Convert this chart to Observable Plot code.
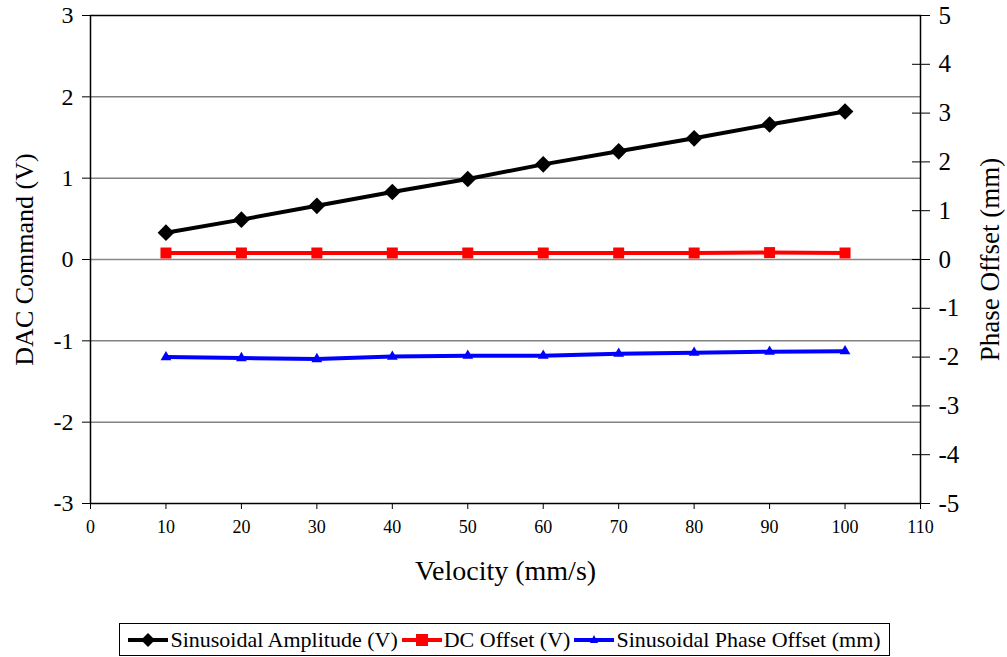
<!DOCTYPE html>
<html>
<head>
<meta charset="utf-8">
<script src="https://cdn.jsdelivr.net/npm/d3@7"></script>
<script src="https://cdn.jsdelivr.net/npm/@observablehq/plot@0.6"></script>
<style>
  html, body { margin: 0; padding: 0; background: white; }
  #chart { width: 1007px; }
  .legend {
    position: absolute; left: 119px; top: 623px; width: 771px; height: 33px;
    border: 1px solid black; box-sizing: border-box;
    display: flex; align-items: center; justify-content: center; gap: 4px;
    font-family: "Liberation Serif", serif; font-size: 22px; color: black;
  }
  .legend .item { display: flex; align-items: center; gap: 2px; white-space: nowrap; }
</style>
</head>
<body>
<div id="chart"></div>
<div class="legend" id="legend"></div>
<script>
// ---- data ----
const velocity = [10, 20, 30, 40, 50, 60, 70, 80, 90, 100];
const amplitude = [0.33, 0.49, 0.66, 0.83, 0.99, 1.17, 1.33, 1.49, 1.66, 1.82];        // V (left axis)
const dcOffset = [0.08, 0.08, 0.08, 0.08, 0.08, 0.08, 0.08, 0.08, 0.085, 0.08];         // V (left axis)
const phaseOffset = [-2.00, -2.02, -2.04, -1.99, -1.97, -1.97, -1.93, -1.91, -1.89, -1.88]; // mm (right axis)
const xTicks = [0, 10, 20, 30, 40, 50, 60, 70, 80, 90, 100, 110];
const leftTicks = [-3, -2, -1, 0, 1, 2, 3];
const rightTicks = [-5, -4, -3, -2, -1, 0, 1, 2, 3, 4, 5];
const gridTicks = [-2, -1, 1, 2];
const seriesNames = ["Sinusoidal Amplitude (V)", "DC Offset (V)", "Sinusoidal Phase Offset (mm)"];
const seriesColors = ["black", "red", "blue"];

// right axis (mm) mapped onto left axis (V): -5..5 -> -3..3
const k = 3 / 5;
const rows = velocity.map((v, i) => ({v, amp: amplitude[i], dc: dcOffset[i], phase: phaseOffset[i] * k}));
const rightScaled = rightTicks.map(t => t * k);

const chart = Plot.plot({
  width: 1007,
  height: 612,
  marginLeft: 90,
  marginRight: 87,
  marginTop: 15,
  marginBottom: 109,
  style: {fontFamily: "Liberation Serif", background: "white", color: "black"},
  x: {domain: [0, 110]},
  y: {domain: [-3, 3]},
  marks: [
    Plot.ruleY(gridTicks, {stroke: "#444", strokeWidth: 1}),
    Plot.ruleY([0], {stroke: "#888", strokeWidth: 1.5}),
    Plot.frame({stroke: "black", strokeWidth: 1.5}),
    Plot.axisX(xTicks, {tickSize: 6, tickPadding: 11, fontSize: 18, tickFormat: d => String(d), label: null}),
    Plot.axisX(xTicks, {tickSize: 0, tickFormat: () => "", label: "Velocity (mm/s)", labelArrow: "none",
      labelAnchor: "center", labelOffset: 76, fontSize: 28}),
    Plot.axisY(leftTicks, {tickSize: 8, tickPadding: 9, fontSize: 24, tickFormat: d => String(d), label: null}),
    Plot.axisY(leftTicks, {tickSize: 0, tickFormat: () => "", label: "DAC Command (V)", labelArrow: "none",
      labelAnchor: "center", labelOffset: 76, fontSize: 26}),
    Plot.axisY(rightScaled, {anchor: "right", tickSize: 9, tickPadding: 9, fontSize: 25,
      tickFormat: d => String(Math.round(d / k)), label: null}),
    Plot.axisY(rightScaled, {anchor: "right", tickSize: 0, tickFormat: () => "",
      label: "Phase Offset (mm)", labelArrow: "none", labelAnchor: "center", labelOffset: 78, fontSize: 27}),
    Plot.axisY(rightScaled.slice(1, -1), {anchor: "right", tickSize: 9, dx: -9, tickFormat: () => "", label: null}),
    Plot.line(rows, {x: "v", y: "amp", stroke: seriesColors[0], strokeWidth: 4}),
    Plot.dot(rows, {x: "v", y: "amp", symbol: "diamond2", fill: seriesColors[0], r: 7.5}),
    Plot.line(rows, {x: "v", y: "dc", stroke: seriesColors[1], strokeWidth: 4}),
    Plot.dot(rows, {x: "v", y: "dc", symbol: "square", fill: seriesColors[1], r: 6.2}),
    Plot.line(rows, {x: "v", y: "phase", stroke: seriesColors[2], strokeWidth: 4}),
    Plot.dot(rows, {x: "v", y: "phase", symbol: "triangle", fill: seriesColors[2], r: 4})
  ]
});
document.getElementById("chart").append(chart);

// legend
const symbols = ["diamond", "square", "triangle"];
const legend = document.getElementById("legend");
seriesNames.forEach((name, i) => {
  const item = document.createElement("div");
  item.className = "item";
  const c = seriesColors[i];
  let marker;
  if (symbols[i] === "diamond") marker = `<polygon points="20,3 27,10 20,17 13,10" fill="${c}"/>`;
  else if (symbols[i] === "square") marker = `<rect x="14" y="4" width="12" height="12" fill="${c}"/>`;
  else marker = `<polygon points="20,5 24,13 16,13" fill="${c}"/>`;
  item.innerHTML = `<svg width="40" height="20"><line x1="0" x2="40" y1="10" y2="10" stroke="${c}" stroke-width="4"/>${marker}</svg><span>${name}</span>`;
  legend.append(item);
});
</script>
</body>
</html>
